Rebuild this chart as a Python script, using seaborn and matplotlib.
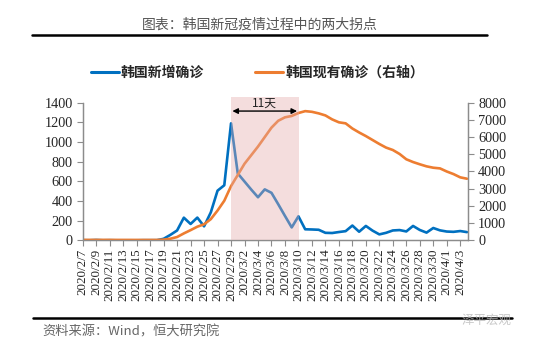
import numpy as np
import pandas as pd
import matplotlib
matplotlib.use("Agg")
import matplotlib.pyplot as plt
import seaborn as sns
from matplotlib.lines import Line2D
from matplotlib.patches import Rectangle
import datetime as dt

# ---------------- data ----------------
start = dt.date(2020, 2, 7)
n_days = 58
dates = [start + dt.timedelta(days=i) for i in range(n_days)]
date_labels = [f"{d.year}/{d.month}/{d.day}" for d in dates]

new_cases = [1, 0, 3, 0, 1, 0, 0, 0, 0, 1, 1, 1,
             15, 55, 100, 230, 166, 231, 142, 284, 505, 560,
             1190, 680, 598, 516, 438, 518, 483, 367, 248, 131,
             244, 112, 110, 107, 76, 74, 84, 93, 150, 87,
             146, 98, 60, 76, 100, 104, 90, 146, 105, 78,
             125, 101, 89, 86, 94, 83]

active_cases = [23, 23, 24, 24, 24, 21, 21, 21, 20, 20, 20, 21,
                40, 90, 190, 400, 590, 790, 930, 1230, 1730, 2300,
                3150, 3800, 4450, 4950, 5450, 6000, 6550, 6950, 7150, 7230,
                7400, 7510, 7470, 7380, 7260, 7030, 6860, 6800, 6500, 6270,
                6060, 5830, 5600, 5390, 5250, 5020, 4710, 4550, 4420, 4300,
                4220, 4180, 4000, 3850, 3660, 3580]

tick_idx = list(range(0, 57, 2))
tick_labels = [date_labels[i] for i in tick_idx]

series_new = "韩国新增确诊"
series_active = "韩国现有确诊（右轴）"
title = "图表：韩国新冠疫情过程中的两大拐点"
source = "资料来源：Wind，恒大研究院"
span_label = "11天"
span_start, span_end = 22, 32  # 2020/2/29 -> 2020/3/10

df = pd.DataFrame({"day": np.arange(n_days), "new": new_cases, "active": active_cases})

# ---------------- style ----------------
sns.set_style("white")
plt.rcParams['font.family'] = ['Noto Sans CJK SC', 'DejaVu Sans']

BLUE = "#0070C0"
ORANGE = "#ED7D31"
GRAY = "#8c8c8c"

fig = plt.figure(figsize=(5.5, 3.49), dpi=100)
ax = fig.add_axes([0.1504, 0.3115, 0.7011, 0.3942])

sns.lineplot(data=df, x="day", y="new", ax=ax, color=BLUE, lw=1.9, legend=False)
ax2 = ax.twinx()
sns.lineplot(data=df, x="day", y="active", ax=ax2, color=ORANGE, lw=1.9, legend=False)
for ln in ax.lines + ax2.lines:
    ln.set_solid_joinstyle("round")
    ln.set_solid_capstyle("round")

ax.set_xlim(0, 57.2)
ax.set_ylim(0, 1400)
ax2.set_ylim(0, 8000)
ax.set_yticks(range(0, 1401, 200))
ax2.set_yticks(range(0, 8001, 1000))
ax.set_xticks(tick_idx)
ax.set_xticklabels(tick_labels, rotation=90, fontfamily="Liberation Serif", fontsize=9.4)
for a in (ax, ax2):
    a.set_xlabel("")
    a.set_ylabel("")
ax.tick_params(axis='y', labelsize=10.3, length=4, width=0.8, color=GRAY, direction='out', pad=3, left=True)
ax2.tick_params(axis='y', labelsize=10.3, length=4, width=0.8, color=GRAY, direction='out', pad=3, right=True)
ax.tick_params(axis='x', length=4, width=0.8, color=GRAY, direction='out', pad=2, bottom=True)
for lab in ax.get_yticklabels() + ax2.get_yticklabels():
    lab.set_fontfamily("Liberation Serif")
for a in (ax, ax2):
    a.spines['top'].set_visible(False)
    for s in ('left', 'right', 'bottom'):
        a.spines[s].set_color(GRAY)
        a.spines[s].set_linewidth(0.9)
ax.grid(False)
ax2.grid(False)

# shaded period on top of lines
rect = Rectangle((span_start - 0.05, 0), span_end - span_start + 0.1, 1.04,
                 transform=ax2.get_xaxis_transform(), facecolor=(228/255, 172/255, 172/255),
                 alpha=0.4, edgecolor='none', clip_on=False, zorder=5)
ax2.add_patch(rect)

# double arrow and label (in right-axis units, drawn above the shading)
arrow_y = 1315 / 1400 * 8000
ax2.annotate("", xy=(span_start + 0.2, arrow_y), xytext=(span_end - 0.2, arrow_y),
             arrowprops=dict(arrowstyle='<|-|>', color='black', lw=1.0,
                             mutation_scale=8, shrinkA=0, shrinkB=0),
             annotation_clip=False, zorder=7)
ax2.text((span_start + span_end) / 2, 1332 / 1400 * 8000, span_label, ha='center', va='bottom',
         fontsize=8.5, color='#222222', zorder=7)

# legend
handles = [Line2D([0], [0], color=BLUE, lw=2.2), Line2D([0], [0], color=ORANGE, lw=2.2)]
fig.legend(handles, [series_new, series_active], loc='center', bbox_to_anchor=(0.468, 0.791),
           ncol=2, frameon=False, handlelength=2.0, handletextpad=0.15, columnspacing=3.7,
           prop={'family': 'Noto Sans CJK SC', 'weight': 'bold', 'size': 10})

# title and rules
fig.text(0.473, 0.928, title, ha='center', va='center', fontsize=10, color='#555555')
fig.add_artist(Line2D([32/550, 487/550], [1 - 35/349, 1 - 35/349], color='black', lw=1.8))
fig.add_artist(Line2D([33/550, 512/550], [1 - 317.7/349, 1 - 317.7/349], color='black', lw=1.8))
fig.text(42/550, 1 - 331.5/349, source, ha='left', va='center', fontsize=9.5, color='#666666')
fig.text(0.885, 1 - 320/349, "泽平宏观", ha='center', va='center', fontsize=9, color='#bbbbbb', alpha=0.8)

fig.savefig("out.png", dpi=100)
